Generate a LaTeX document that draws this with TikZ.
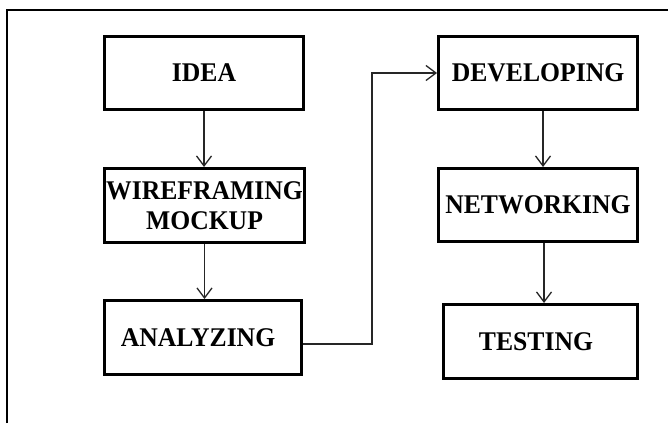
\documentclass[tikz,border=0pt]{standalone}
\usepackage{fontspec}
\setmainfont{Liberation Serif}
\newfontfamily\boxfont[FakeStretch=0.95]{Liberation Serif}
\usetikzlibrary{arrows.meta}

\begin{document}
\begin{tikzpicture}[x=1pt,y=-1pt,
  stepbox/.style={draw=black, line width=3pt, inner sep=0pt, align=center,
    font=\boxfont\bfseries\fontsize{27}{30}\selectfont, text=black},
  flow/.style={draw=black!85, line width=1.3pt,
    -{Straight Barb[length=10pt,width=15pt,line width=1.3pt]}},
  frame/.style={draw=black, line width=2pt}]

  % page area
  \useasboundingbox (0,0) rectangle (668,423);
  \fill[white] (0,0) rectangle (668,423);

  % outer frame (open to the right and bottom)
  \coordinate (fbl) at (7,423);
  \coordinate (ftl) at (7,10);
  \coordinate (ftr) at (668,10);
  \draw[frame] (fbl) -- (ftl) -- (ftr);

  % left column
  \node[stepbox, minimum width=199pt, minimum height=73pt] (idea) at (204,73) {IDEA};
  \node[stepbox, minimum width=200pt, minimum height=74pt] (wire) at (204.5,205.5) {WIREFRAMING\\MOCKUP};
  \node[stepbox, minimum width=197pt, minimum height=74pt] (ana) at (203,337.5) {ANALYZING\hspace*{10pt}};

  % right column
  \node[stepbox, minimum width=199pt, minimum height=73pt] (dev) at (538,73) {DEVELOPING};
  \node[stepbox, minimum width=199pt, minimum height=73pt] (net) at (538,205) {NETWORKING};
  \node[stepbox, minimum width=194pt, minimum height=74pt] (test) at (540.5,341.5) {TESTING\hspace*{9pt}};

  % connectors
  \draw[flow] (idea.south) -- (idea.south |- wire.north);
  \draw[flow] (wire.south) -- (wire.south |- ana.north);
  \coordinate (route) at (372,200);
  \draw[flow] ([yshift=-6.5pt]ana.east) -| (route) |- (dev.west);
  \draw[flow] ([xshift=5pt]dev.south) -- ([xshift=5pt]dev.south |- net.north);
  \draw[flow] ([xshift=6pt]net.south) -- ([xshift=6pt]net.south |- test.north);
\end{tikzpicture}
\end{document}
